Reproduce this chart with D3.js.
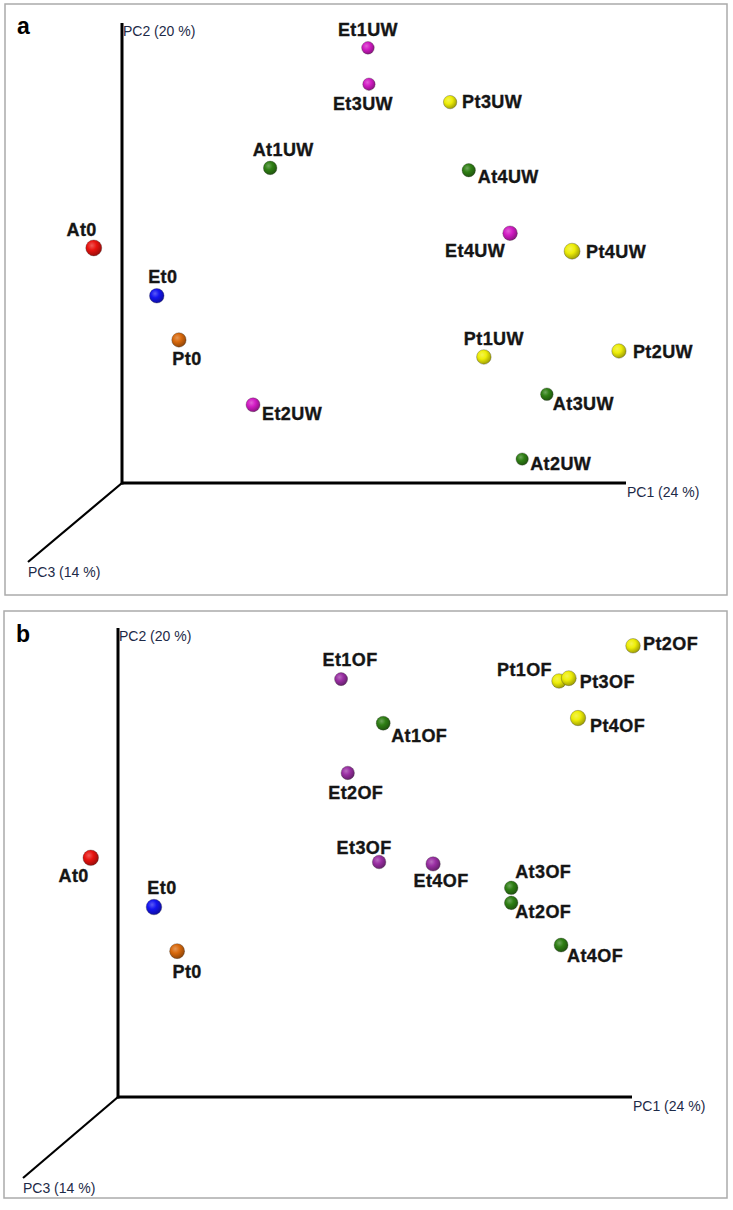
<!DOCTYPE html>
<html>
<head>
<meta charset="utf-8">
<script src="https://cdn.jsdelivr.net/npm/d3@7"></script>
<style>
  body { margin: 0; background: #fff; }
  .lbl { font-family: "Liberation Sans", Arial, sans-serif; font-weight: bold; font-size: 18px; fill: #151515; stroke: #151515; stroke-width: 0.35px; letter-spacing: 0.4px; }
  .axlbl { font-family: "Liberation Sans", Arial, sans-serif; font-size: 14px; fill: #1d2a48; }
  .panel { font-family: "Liberation Sans", Arial, sans-serif; font-weight: bold; font-size: 23px; fill: #000; }
</style>
</head>
<body>
<div id="chart"></div>
<script>
// axis titles
var axisTitles = ["PC1 (24 %)", "PC2 (20 %)", "PC3 (14 %)"];

// panel a : UW samples (PC1 / PC2 in % of drawn axis length, PC3 = depth)
var namesA = ["At0", "Et0", "Pt0", "Et2UW", "Et1UW", "Et3UW", "Pt3UW", "At4UW", "Et4UW", "Pt4UW", "At1UW", "Pt1UW", "Pt2UW", "At3UW", "At2UW"];
var pc1A   = [-5.6, 6.9, 11.3, 26.0, 48.8, 49.0, 65.1, 68.8, 77.0, 89.3, 29.4, 71.8, 98.6, 84.3, 79.4];
var pc2A   = [51.1, 40.7, 31.1, 17.0, 94.6, 86.7, 82.8, 68.0, 54.3, 50.4, 68.5, 27.4, 28.7, 19.3, 5.2];
var pc3A   = [91, 59, 55, 45, 14, 9, 32, 32, 59, 91, 36, 59, 55, 14, 9];

// panel b : OF samples
var namesB = ["At0", "Et0", "Pt0", "Et1OF", "At1OF", "Et2OF", "Et3OF", "Et4OF", "At3OF", "At2OF", "At4OF", "Pt1OF", "Pt3OF", "Pt2OF", "Pt4OF"];
var pc1B   = [-5.3, 7.0, 11.5, 43.4, 51.6, 44.7, 50.8, 61.3, 76.5, 76.5, 86.2, 85.8, 87.7, 100.2, 89.5];
var pc2B   = [51.0, 40.5, 31.1, 89.1, 79.7, 69.1, 50.1, 49.7, 44.6, 41.4, 32.4, 88.7, 89.3, 96.2, 80.8];
var pc3B   = [82, 82, 68, 23, 45, 32, 36, 55, 36, 36, 45, 59, 68, 59, 77];

// where each label sits relative to its sphere: [anchor, dx, dy]
var labelPlaceA = {
  "At0": ["end", 3, -12], "Et0": ["middle", 6, -13], "Pt0": ["middle", 8, 25],
  "Et2UW": ["start", 9, 15], "Et1UW": ["middle", 0, -12], "Et3UW": ["middle", -6, 26],
  "Pt3UW": ["start", 12, 6], "At4UW": ["start", 9, 13], "Et4UW": ["end", -5, 24],
  "Pt4UW": ["start", 14, 7], "At1UW": ["middle", 13, -12], "Pt1UW": ["middle", 10, -12],
  "Pt2UW": ["start", 14, 7], "At3UW": ["start", 6, 16], "At2UW": ["start", 8, 11]
};
var labelPlaceB = {
  "At0": ["end", -2, 24], "Et0": ["middle", 8, -13], "Pt0": ["middle", 10, 27],
  "Et1OF": ["middle", 9, -13], "At1OF": ["start", 8, 19], "Et2OF": ["middle", 8, 26],
  "Et3OF": ["middle", -15, -8], "Et4OF": ["middle", 8, 23], "At3OF": ["start", 4, -10],
  "At2OF": ["start", 4, 15], "At4OF": ["start", 6, 17], "Pt1OF": ["end", -7, -5],
  "Pt3OF": ["start", 11, 10], "Pt2OF": ["start", 10, 4], "Pt4OF": ["start", 12, 14]
};

var W = 733, H = 1210;

var svg = d3.select("#chart").append("svg")
    .attr("width", W)
    .attr("height", H);

var defs = svg.append("defs");

var colors = {
  red: "#e8130f", blue: "#1414f0", orange: "#d9690c",
  magenta: "#d21cc4", purple: "#9a2fa3", green: "#2f7f14", yellow: "#eeee08"
};

Object.keys(colors).forEach(function(k) {
  var c = d3.color(colors[k]);
  var g = defs.append("radialGradient")
      .attr("id", "g-" + k)
      .attr("cx", "38%").attr("cy", "35%").attr("r", "65%");
  g.append("stop").attr("offset", "0%").attr("stop-color", d3.interpolateRgb(c, "#fff")(0.3));
  g.append("stop").attr("offset", "45%").attr("stop-color", c.formatHex());
  g.append("stop").attr("offset", "100%").attr("stop-color", c.darker(1.1).formatHex());
});

function colorKey(name, panel) {
  if (name == "At0") return "red";
  if (name == "Et0") return "blue";
  if (name == "Pt0") return "orange";
  if (name.slice(0, 2) == "At") return "green";
  if (name.slice(0, 2) == "Pt") return "yellow";
  return panel == "a" ? "magenta" : "purple";
}

var r = d3.scaleLinear().domain([0, 100]).range([6, 8.2]);

function drawPanel(cfg) {
  var g = svg.append("g");

  g.append("rect")
    .attr("x", cfg.box[0]).attr("y", cfg.box[1])
    .attr("width", cfg.box[2]).attr("height", cfg.box[3])
    .attr("fill", "#fff")
    .attr("stroke", "#ababab")
    .attr("stroke-width", 1.5);

  g.append("text")
    .attr("class", "panel")
    .attr("x", cfg.letterPos[0]).attr("y", cfg.letterPos[1])
    .text(cfg.letter);

  var x = d3.scaleLinear().domain([0, 100]).range([cfg.origin[0], cfg.xEnd]);
  var y = d3.scaleLinear().domain([0, 100]).range([cfg.origin[1], cfg.yTop]);

  // PC3 goes off towards the lower left
  g.append("line")
    .attr("x1", x(0)).attr("y1", y(0))
    .attr("x2", cfg.pc3End[0]).attr("y2", cfg.pc3End[1])
    .attr("stroke", "#000").attr("stroke-width", 2.2);
  g.append("line")
    .attr("x1", x(0)).attr("y1", y(0))
    .attr("x2", x(100)).attr("y2", y(0))
    .attr("stroke", "#000").attr("stroke-width", 3);
  g.append("line")
    .attr("x1", x(0)).attr("y1", y(0) + 1.5)
    .attr("x2", x(0)).attr("y2", y(100))
    .attr("stroke", "#000").attr("stroke-width", 3);

  g.append("text").attr("class", "axlbl")
    .attr("x", x(100) + 1).attr("y", y(0) + 14)
    .text(axisTitles[0]);
  g.append("text").attr("class", "axlbl")
    .attr("x", x(0) + 1).attr("y", y(100) + 13)
    .text(axisTitles[1]);
  g.append("text").attr("class", "axlbl")
    .attr("x", cfg.pc3End[0]).attr("y", cfg.pc3End[1] + 15)
    .text(axisTitles[2]);

  var data = cfg.names.map(function(n, i) {
    return {name: n, pc1: cfg.pc1[i], pc2: cfg.pc2[i], pc3: cfg.pc3[i]};
  });
  // far spheres first
  data.sort(function(a, b) { return a.pc3 - b.pc3; });

  g.append("g")
    .selectAll("circle")
    .data(data)
    .enter()
    .append("circle")
      .attr("cx", function(d) { return x(d.pc1); })
      .attr("cy", function(d) { return y(d.pc2); })
      .attr("r", function(d) { return r(d.pc3); })
      .attr("fill", function(d) { return "url(#g-" + colorKey(d.name, cfg.letter) + ")"; })
      .attr("stroke", "#333")
      .attr("stroke-opacity", 0.45)
      .attr("stroke-width", 0.7);

  g.append("g")
    .selectAll("text")
    .data(data)
    .enter()
    .append("text")
      .attr("class", "lbl")
      .attr("text-anchor", function(d) { return cfg.place[d.name][0]; })
      .attr("x", function(d) { return x(d.pc1) + cfg.place[d.name][1]; })
      .attr("y", function(d) { return y(d.pc2) + cfg.place[d.name][2]; })
      .text(function(d) { return d.name; });
}

drawPanel({
  letter: "a", letterPos: [17, 34],
  box: [5, 4, 722, 591],
  origin: [122, 483], xEnd: 626, yTop: 23, pc3End: [28, 562],
  names: namesA, pc1: pc1A, pc2: pc2A, pc3: pc3A, place: labelPlaceA
});

drawPanel({
  letter: "b", letterPos: [16, 642],
  box: [4, 611, 723, 587],
  origin: [118, 1097], xEnd: 632, yTop: 628, pc3End: [23, 1178],
  names: namesB, pc1: pc1B, pc2: pc2B, pc3: pc3B, place: labelPlaceB
});
</script>
</body>
</html>
